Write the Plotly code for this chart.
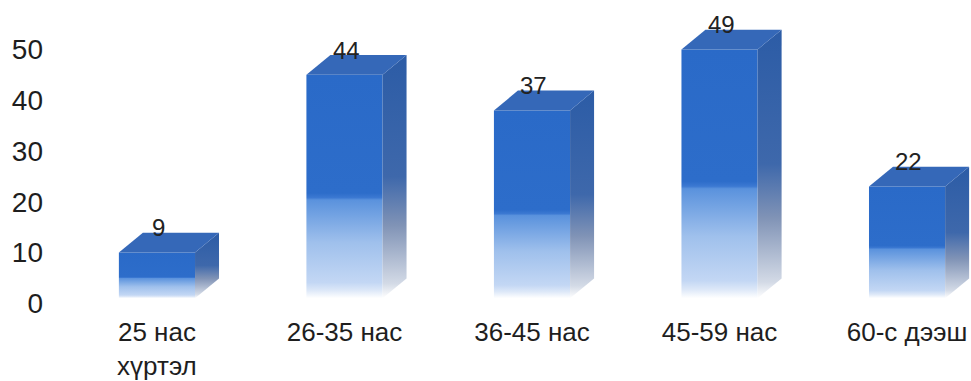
import plotly.graph_objects as go

# Age groups and counts
categories = ["25 нас<br>хүртэл", "26-35 нас", "36-45 нас", "45-59 нас", "60-с дээш"]
values = [9, 44, 37, 49, 22]
y_ticks = [0, 10, 20, 30, 40, 50]

# Pseudo-3D box geometry (axis units)
HALF_W = 0.203      # half width of the front face
DEPTH_X = 0.128     # horizontal offset of the back edge
DEPTH_Y = 3.9       # vertical offset of the back edge

FRONT_SCALE = [
    [0.0, "#ffffff"], [0.035, "#dde8f8"], [0.07, "#c3d7f4"], [0.25, "#9fc0ec"],
    [0.44, "#5a92dd"], [0.45, "#3c79d2"], [0.47, "#2d6dca"], [1.0, "#2a6ac8"],
]
SIDE_SCALE = [
    [0.0, "#ffffff"], [0.06, "#d3dae6"], [0.3, "#8093b6"],
    [0.5, "#3e68ab"], [1.0, "#2c5ca6"],
]
TOP_COLOR = "#3568b8"

fig = go.Figure()

for i, v in enumerate(values):
    xl, xr = i - HALF_W, i + HALF_W
    # front face
    fig.add_trace(go.Scatter(
        x=[xl, xr, xr, xl, xl], y=[0, 0, v, v, 0],
        mode="lines", line=dict(width=0), fill="toself",
        fillgradient=dict(type="vertical", colorscale=FRONT_SCALE),
        hoverinfo="skip", showlegend=False,
    ))
    # right side face
    fig.add_trace(go.Scatter(
        x=[xr, xr + DEPTH_X, xr + DEPTH_X, xr, xr],
        y=[0, DEPTH_Y, v + DEPTH_Y, v, 0],
        mode="lines", line=dict(width=0), fill="toself",
        fillgradient=dict(type="vertical", colorscale=SIDE_SCALE),
        hoverinfo="skip", showlegend=False,
    ))
    # top face
    fig.add_trace(go.Scatter(
        x=[xl, xr, xr + DEPTH_X, xl + DEPTH_X, xl],
        y=[v, v, v + DEPTH_Y, v + DEPTH_Y, v],
        mode="lines", line=dict(width=0), fill="toself", fillcolor=TOP_COLOR,
        hoverinfo="skip", showlegend=False,
    ))
    # value label sitting on the back edge of the top face
    fig.add_annotation(
        x=i + 0.01, y=v + DEPTH_Y, text=str(v), showarrow=False,
        yanchor="middle", yshift=5,
        font=dict(family="Liberation Sans, Arial, sans-serif", size=24, color="#222222"),
    )

fig.update_layout(
    width=971, height=381,
    margin=dict(l=60, r=0, t=0, b=63),
    paper_bgcolor="white", plot_bgcolor="white",
    font=dict(family="Liberation Sans, Arial, sans-serif", color="#1e1e1e"),
    xaxis=dict(
        range=[-0.517, 4.341], tickmode="array",
        tickvals=list(range(len(categories))), ticktext=categories,
        showgrid=False, zeroline=False, showline=False, ticks="",
        tickfont=dict(size=26),
    ),
    yaxis=dict(
        range=[-3.11, 58.75], tickmode="array", tickvals=y_ticks,
        showgrid=False, zeroline=False, showline=False, ticks="",
        tickfont=dict(size=28), ticklabelstandoff=16, ticklabelshift=5,
    ),
)

fig.write_html("out.html")
